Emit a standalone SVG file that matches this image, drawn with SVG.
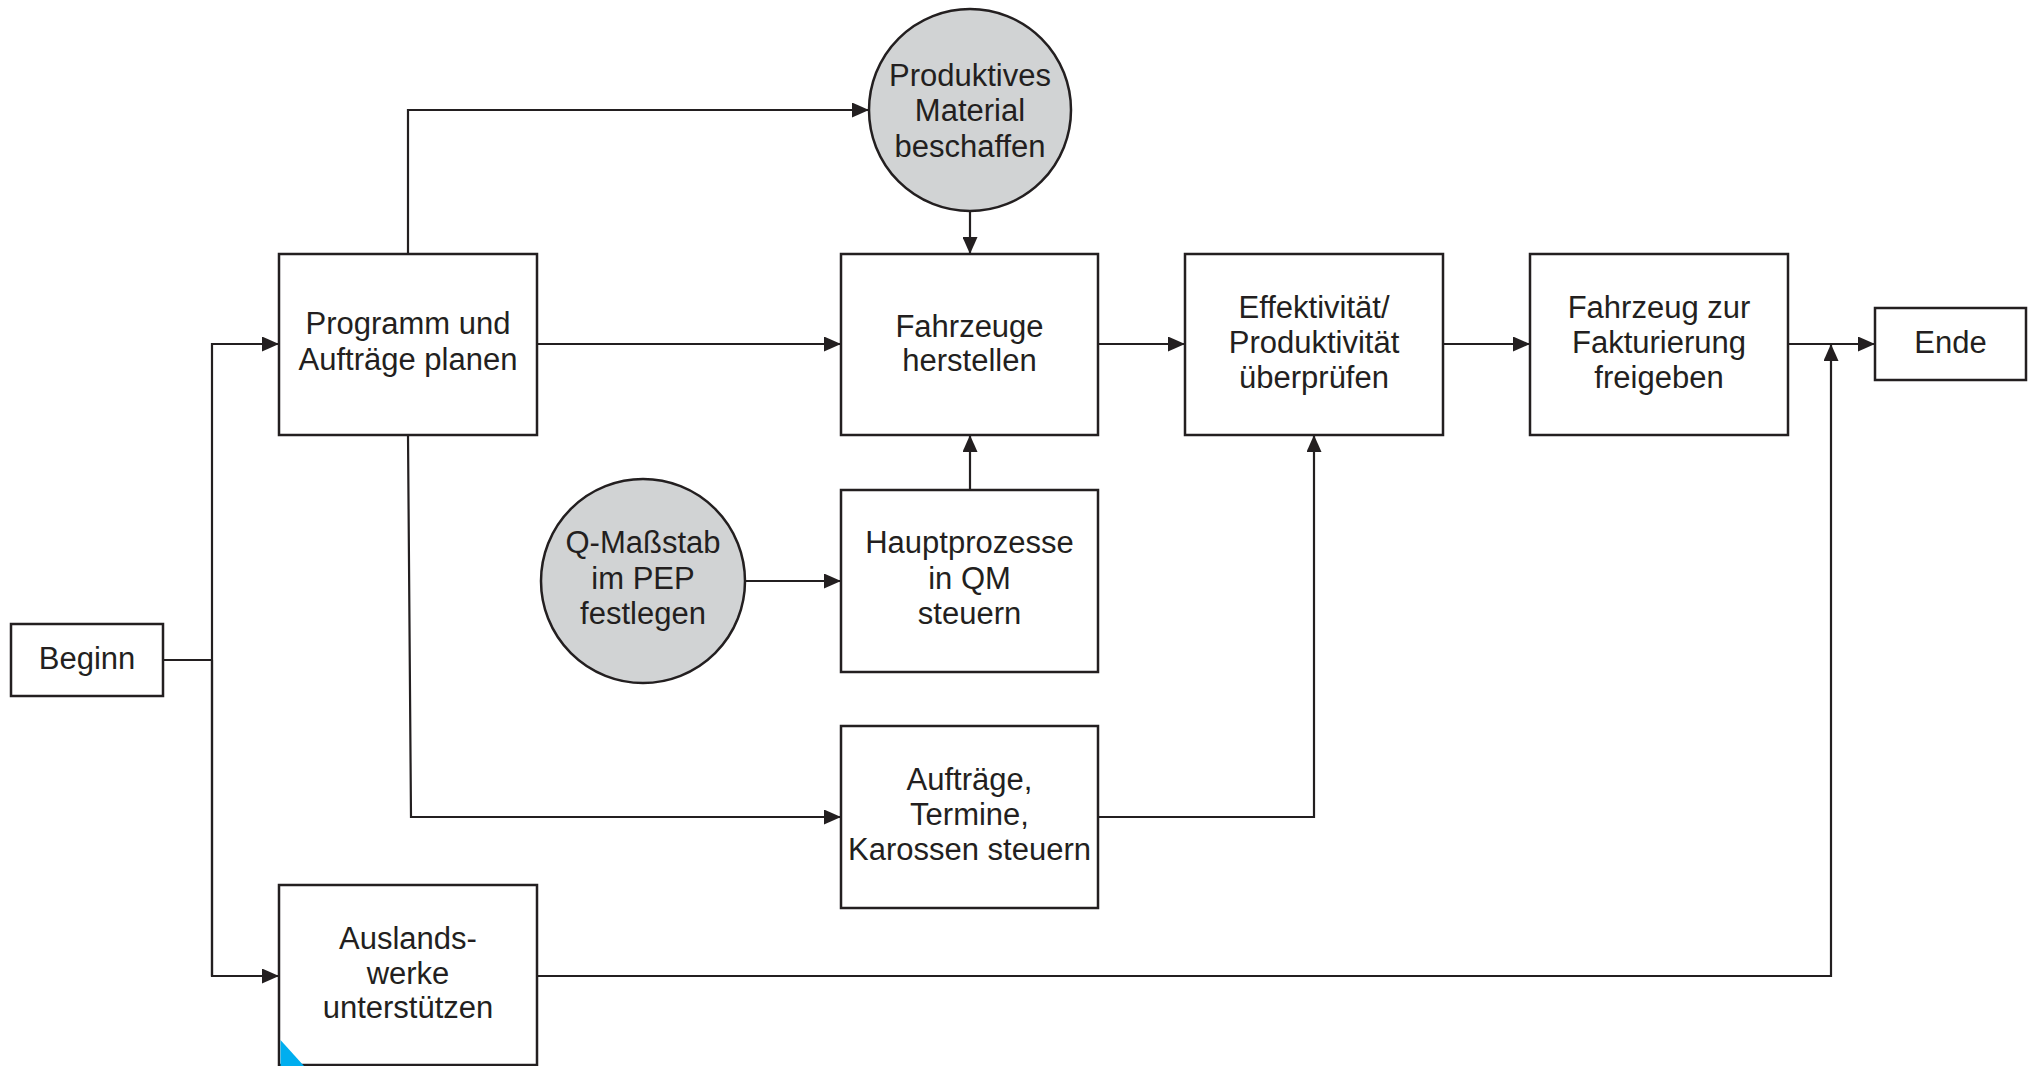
<svg xmlns="http://www.w3.org/2000/svg" width="2036" height="1066" viewBox="0 0 2036 1066">
<style>
.box{fill:#ffffff;stroke:#231f20;stroke-width:2.5}
.circ{fill:#d1d3d4;stroke:#231f20;stroke-width:2.5}
.lbl{font-family:"Liberation Sans",Arial,sans-serif;font-size:31px;fill:#231f20;text-anchor:middle}
.con{fill:none;stroke:#231f20;stroke-width:2.2}
</style>
<defs>
<marker id="ah" markerWidth="17" markerHeight="15" refX="17" refY="7.5" orient="auto" markerUnits="userSpaceOnUse">
<path d="M0,0 L17,7.5 L0,15 z" fill="#231f20"/>
</marker>
</defs>
<rect width="2036" height="1066" fill="#ffffff"/>
<g id="connectors">
<polyline class="con" points="163,660 212,660"/>
<polyline class="con" points="212,976 212,344 279,344" marker-end="url(#ah)"/>
<polyline class="con" points="212,660 212,976 279,976" marker-end="url(#ah)"/>
<polyline class="con" points="408,254 408,110 869,110" marker-end="url(#ah)"/>
<polyline class="con" points="537,344 841,344" marker-end="url(#ah)"/>
<polyline class="con" points="970,211 970,254" marker-end="url(#ah)"/>
<polyline class="con" points="970,490 970,435" marker-end="url(#ah)"/>
<polyline class="con" points="745,581 841,581" marker-end="url(#ah)"/>
<polyline class="con" points="408,435 411,817 841,817" marker-end="url(#ah)"/>
<polyline class="con" points="1098,817 1314,817 1314,435" marker-end="url(#ah)"/>
<polyline class="con" points="1098,344 1185,344" marker-end="url(#ah)"/>
<polyline class="con" points="1443,344 1530,344" marker-end="url(#ah)"/>
<polyline class="con" points="1788,344 1875,344" marker-end="url(#ah)"/>
<polyline class="con" points="537,976 1831,976 1831,344" marker-end="url(#ah)"/>
</g>
<g id="beginn">
<rect class="box" x="11" y="624" width="152" height="72"/>
<text class="lbl" x="87" y="669">Beginn</text>
</g>
<g id="programm">
<rect class="box" x="279" y="254" width="258" height="181"/>
<text class="lbl" x="408" y="334">Programm und</text>
<text class="lbl" x="408" y="370">Aufträge planen</text>
</g>
<g id="material">
<circle class="circ" cx="970" cy="110" r="101"/>
<text class="lbl" x="970" y="86">Produktives</text>
<text class="lbl" x="970" y="121">Material</text>
<text class="lbl" x="970" y="157">beschaffen</text>
</g>
<g id="fahrzeuge">
<rect class="box" x="841" y="254" width="257" height="181"/>
<text class="lbl" x="969.5" y="337">Fahrzeuge</text>
<text class="lbl" x="969.5" y="371">herstellen</text>
</g>
<g id="effektivitaet">
<rect class="box" x="1185" y="254" width="258" height="181"/>
<text class="lbl" x="1314" y="318">Effektivität/</text>
<text class="lbl" x="1314" y="353">Produktivität</text>
<text class="lbl" x="1314" y="388">überprüfen</text>
</g>
<g id="freigabe">
<rect class="box" x="1530" y="254" width="258" height="181"/>
<text class="lbl" x="1659" y="318">Fahrzeug zur</text>
<text class="lbl" x="1659" y="353">Fakturierung</text>
<text class="lbl" x="1659" y="388">freigeben</text>
</g>
<g id="ende">
<rect class="box" x="1875" y="308" width="151" height="72"/>
<text class="lbl" x="1950.5" y="353">Ende</text>
</g>
<g id="qmassstab">
<circle class="circ" cx="643" cy="581" r="102"/>
<text class="lbl" x="643" y="553">Q-Maßstab</text>
<text class="lbl" x="643" y="589">im PEP</text>
<text class="lbl" x="643" y="624">festlegen</text>
</g>
<g id="hauptprozesse">
<rect class="box" x="841" y="490" width="257" height="182"/>
<text class="lbl" x="969.5" y="553">Hauptprozesse</text>
<text class="lbl" x="969.5" y="589">in QM</text>
<text class="lbl" x="969.5" y="624">steuern</text>
</g>
<g id="auftraege">
<rect class="box" x="841" y="726" width="257" height="182"/>
<text class="lbl" x="969.5" y="790">Aufträge,</text>
<text class="lbl" x="969.5" y="825">Termine,</text>
<text class="lbl" x="969.5" y="860">Karossen steuern</text>
</g>
<g id="auslandswerke">
<rect class="box" x="279" y="885" width="258" height="180"/>
<path d="M280.5,1040 L280.5,1066 L304,1066 z" fill="#00aeef"/>
<text class="lbl" x="408" y="949">Auslands-</text>
<text class="lbl" x="408" y="984">werke</text>
<text class="lbl" x="408" y="1018">unterstützen</text>
</g>
</svg>
